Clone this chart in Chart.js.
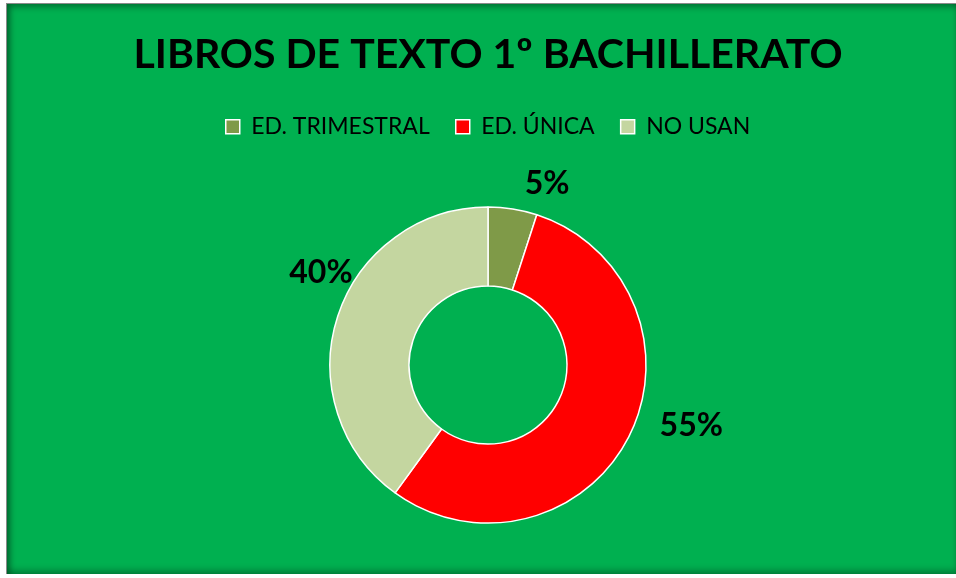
<!DOCTYPE html>
<html>
<head>
<meta charset="utf-8">
<script src="https://cdn.jsdelivr.net/npm/chart.js@4.4.0/dist/chart.umd.min.js"></script>
<style>
  html, body { margin: 0; padding: 0; background: #ffffff; }
  .frame {
    position: absolute; left: 6px; top: 3px; width: 950px; height: 570px;
    background: #00b050;
    border-left: 1px solid #8a8a8a; border-top: 1px solid #8a8a8a;
    box-shadow: inset 3px 3px 6px rgba(0,0,0,0.35), inset 0 -4px 6px rgba(0,0,0,0.25);
  }
  .frame canvas { position: absolute; left: 0; top: 0; }
</style>
</head>
<body>
<div class="frame"><canvas class="my-chart" width="950" height="570"></canvas></div>
<script>
const categories = ['ED. TRIMESTRAL', 'ED. ÚNICA', 'NO USAN'];
const percentages = [5, 55, 40];
const sliceColors = ['#7f9a48', '#ff0000', '#c4d6a0'];

// where Excel put each label: angle (deg, 0 = right, clockwise) and distance from centre
const labelSpots = [
    { angle: -72, dist: 191 },
    { angle: 16.5, dist: 212 },
    { angle: -151, dist: 191 },
];

const pctLabels = {
    id: 'pctLabels',
    afterDatasetsDraw(chart) {
        const ctx = chart.ctx;
        const meta = chart.getDatasetMeta(0);
        ctx.save();
        ctx.font = 'bold 32px Lato';
        ctx.fillStyle = '#000';
        ctx.textAlign = 'center';
        ctx.textBaseline = 'middle';
        meta.data.forEach((arc, i) => {
            const spot = labelSpots[i];
            const a = spot.angle * Math.PI / 180;
            const x = arc.x + Math.cos(a) * spot.dist;
            const y = arc.y + Math.sin(a) * spot.dist;
            ctx.fillText(percentages[i] + '%', x, y);
        });
        ctx.restore();
    }
};

// a bit more room under the legend
const legendGap = {
    id: 'legendGap',
    beforeInit(chart) {
        const fit = chart.legend.fit;
        chart.legend.fit = function () {
            fit.bind(chart.legend)();
            this.height += 8;
        };
    }
};

Chart.defaults.color = 'black';
Chart.defaults.font.family = 'Lato';

const config = {
    type: 'doughnut',
    data: {
        labels: categories,
        datasets: [{
            data: percentages,
            backgroundColor: sliceColors,
            borderColor: '#ffffff',
            borderWidth: 1.5,
            radius: 158,
        }]
    },
    plugins: [pctLabels, legendGap],
    options: {
        responsive: false,
        animation: false,
        cutout: '50%',
        layout: { padding: { top: 0, bottom: 0, left: 12, right: 0 } },
        plugins: {
            tooltip: { enabled: false },
            title: {
                display: true,
                text: 'LIBROS DE TEXTO 1º BACHILLERATO',
                font: { size: 41, weight: 'bold' },
                color: '#000',
                padding: { top: 26, bottom: 10 },
            },
            legend: {
                position: 'top',
                labels: {
                    boxWidth: 14,
                    boxHeight: 14,
                    padding: 26,
                    font: { size: 23 },
                    color: '#000',
                }
            }
        }
    }
};

const myChart = document.querySelector('.my-chart');
const chart = new Chart(myChart, config);
</script>
</body>
</html>
